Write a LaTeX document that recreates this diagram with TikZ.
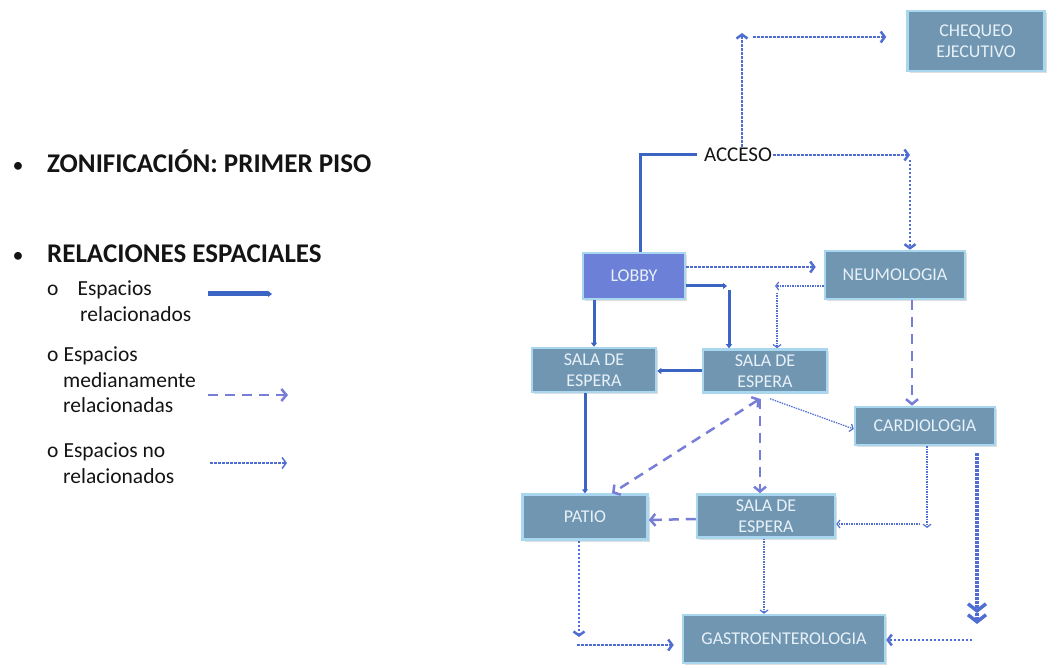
\documentclass[tikz,border=0pt]{standalone}
\usepackage{fontspec}
\setmainfont{Carlito}
\usetikzlibrary{arrows.meta, shadows}
\definecolor{roomfill}{HTML}{7096B2}
\definecolor{roomedge}{HTML}{AAD7F0}
\definecolor{roomtext}{HTML}{E8F1F8}
\definecolor{lobbyfill}{HTML}{6C80D8}
\definecolor{relblue}{HTML}{3C64C3}
\definecolor{medblue}{HTML}{787DD7}
\definecolor{dotblue}{HTML}{506ED2}
\definecolor{ink}{HTML}{141414}
\tikzset{
  room/.style = {draw=roomedge, line width=2.5pt, fill=roomfill, text=roomtext, align=center,
    inner sep=0pt, font=\fontsize{18}{21}\selectfont,
    drop shadow={opacity=.25, shadow xshift=2pt, shadow yshift=-2pt}},
  head/.style = {font=\fontsize{27}{32}\selectfont\bfseries, text=ink, inner sep=0pt},
  dot/.style = {font=\fontsize{22}{26}\selectfont, text=ink, inner sep=0pt},
  legtxt/.style = {font=\fontsize{21.5}{25.5}\selectfont, text=ink, align=left, inner sep=0pt},
  rel/.style = {draw=relblue, line width=3pt, -{Triangle[length=4pt,width=6pt]}},
  med/.style = {draw=medblue, line width=2.5pt, dash pattern=on 10pt off 7pt,
    -{Straight Barb[length=5pt,width=12pt]}},
  norel/.style = {draw=dotblue, line width=2.5pt, dash pattern=on 2.5pt off 1.5pt,
    -{Straight Barb[length=4pt,width=11pt]}},
  nothin/.style = {norel, line width=1.2pt, dash pattern=on 1.5pt off 1pt,
    -{Straight Barb[length=3pt,width=8pt]}},
  nothick/.style = {norel, line width=3.5pt,
    -{Straight Barb[length=7pt,width=18pt] Straight Barb[length=7pt,width=18pt]}}
}
\begin{document}
\begin{tikzpicture}[x=1pt, y=-1pt]
\useasboundingbox (0,0) rectangle (1061,668);
\node[dot, anchor=base] (b1) at (18,173) {\textbullet};
\node[head, anchor=base west] (zona) at (47,173) {ZONIFICACIÓN: PRIMER PISO};
\node[dot, anchor=base] (b2) at (18,263) {\textbullet};
\node[head, anchor=base west] (relac) at (47,263) {RELACIONES ESPACIALES};
\node[legtxt, anchor=north west] (item1) at (47,281) {o\hspace*{19pt}Espacios\\\hspace*{33pt}relacionados};
\node[legtxt, anchor=north west] (item2) at (47,347) {o\hspace*{5pt}Espacios\\\hspace*{16pt}medianamente\\\hspace*{16pt}relacionadas};
\node[legtxt, anchor=north west] (item3) at (47,443) {o\hspace*{5pt}Espacios no\\\hspace*{16pt}relacionados};
\coordinate (k1) at (208,294); \coordinate (k1e) at (272,294);
\coordinate (k2) at (208,395); \coordinate (k2e) at (288,395);
\coordinate (k3) at (210,463); \coordinate (k3e) at (287,463);
\draw[rel, line width=5pt] (k1) -- (k1e);
\draw[med] (k2) -- (k2e);
\draw[norel, line width=1.5pt] (k3) -- (k3e);

\node[room, minimum width=137pt, minimum height=60pt] (chequeo) at (976,41) {CHEQUEO\\EJECUTIVO};
\node[room, fill=lobbyfill, minimum width=102pt, minimum height=46pt] (lobby) at (634,276) {LOBBY};
\node[room, minimum width=140pt, minimum height=48pt] (neumo) at (895,275) {NEUMOLOGIA};
\node[room, minimum width=124pt, minimum height=44pt] (sala1) at (594,370) {SALA DE\\ESPERA};
\node[room, minimum width=124pt, minimum height=43pt] (sala2) at (765,371) {SALA DE\\ESPERA};
\node[room, minimum width=140pt, minimum height=38pt] (cardio) at (925,426) {CARDIOLOGIA};
\node[room, minimum width=125pt, minimum height=45pt] (patio) at (585,517) {PATIO};
\node[room, minimum width=138pt, minimum height=43pt] (sala3) at (766,516) {SALA DE\\ESPERA};
\node[room, minimum width=202pt, minimum height=48pt] (gastro) at (784,639) {GASTROENTEROLOGIA};
\node[inner sep=1pt, text=ink, font=\fontsize{21}{24}\selectfont] (acceso) at (738,155) {ACCESO};

\coordinate (topup) at (742,33);
\coordinate (topright) at (753,37);
\coordinate (acbend) at (910,155);
\coordinate (acdown) at (910,160);
\coordinate (lbend) at (727,286);
\coordinate (ldown) at (729,290);
\coordinate (nbend) at (775,286);
\coordinate (ndown) at (777,293);
\coordinate (nsouth) at ([xshift=17pt]neumo.south);
\coordinate (sdash) at ([shift={(-5pt,-5pt)}]sala2.south);
\coordinate (sdot) at ([shift={(5pt,-5pt)}]sala2.south);
\coordinate (sgas) at ([xshift=-2pt]sala3.south);
\coordinate (cbend) at (927,528);
\coordinate (cleft) at (920,524);
\coordinate (gbend) at (977,624);
\coordinate (gleft) at (972,640);
\coordinate (pbend) at (579,637);
\coordinate (pright) at (577,645);

\draw[rel, -, shorten >=6pt] ([xshift=6pt]lobby.north) |- (acceso.west);
\draw[rel] (lobby.south -| sala1.north) -- (sala1.north);
\draw[rel] (lobby.east |- lbend) -- (lbend);
\draw[rel] (ldown) -- (ldown |- sala2.north);
\draw[rel] (sala2.west) -- (sala2.west -| sala1.east);
\draw[rel] (sala1.south -| patio.north) -- (patio.north);

\draw[med] (nsouth) -- (nsouth |- cardio.north);
\draw[med, {Straight Barb[length=5pt,width=12pt]}-{Straight Barb[length=5pt,width=12pt]}] (sdash) -- ([xshift=27pt]patio.north);
\draw[med] (sdash) -- (sdash |- sala3.north);
\draw[med] ([yshift=-3pt]sala3.west) -- ([yshift=-3pt]patio.east);

\draw[norel] ([xshift=4pt]acceso.north) -- (topup);
\draw[norel, shorten >=20pt] (topright) -- (topright -| chequeo.west);
\draw[norel] (acceso.east) -- (acbend);
\draw[norel] (acdown) -- (acdown |- neumo.north);
\draw[norel, shorten >=8pt] ([yshift=9pt]lobby.east) -- ([yshift=8pt]neumo.west);
\draw[nothin] ([yshift=-11pt]neumo.west) -- (nbend);
\draw[nothin] (ndown) -- (ndown |- sala2.north);
\draw[nothin] (sdot) -- ([yshift=-3pt]cardio.west);
\draw[nothin] (cardio.south -| cbend) -- (cbend);
\draw[nothin] (cleft) -- (cleft -| sala3.east);
\draw[nothin] (sgas) -- (sgas |- gastro.north);
\draw[nothick, shorten <=7pt] (cardio.south -| gbend) -- (gbend);
\draw[norel] (gleft) -- (gleft -| gastro.east);
\draw[norel] (patio.south -| pbend) -- (pbend);
\draw[norel, shorten >=8pt] (pright) -- (pright -| gastro.west);
\end{tikzpicture}
\end{document}
